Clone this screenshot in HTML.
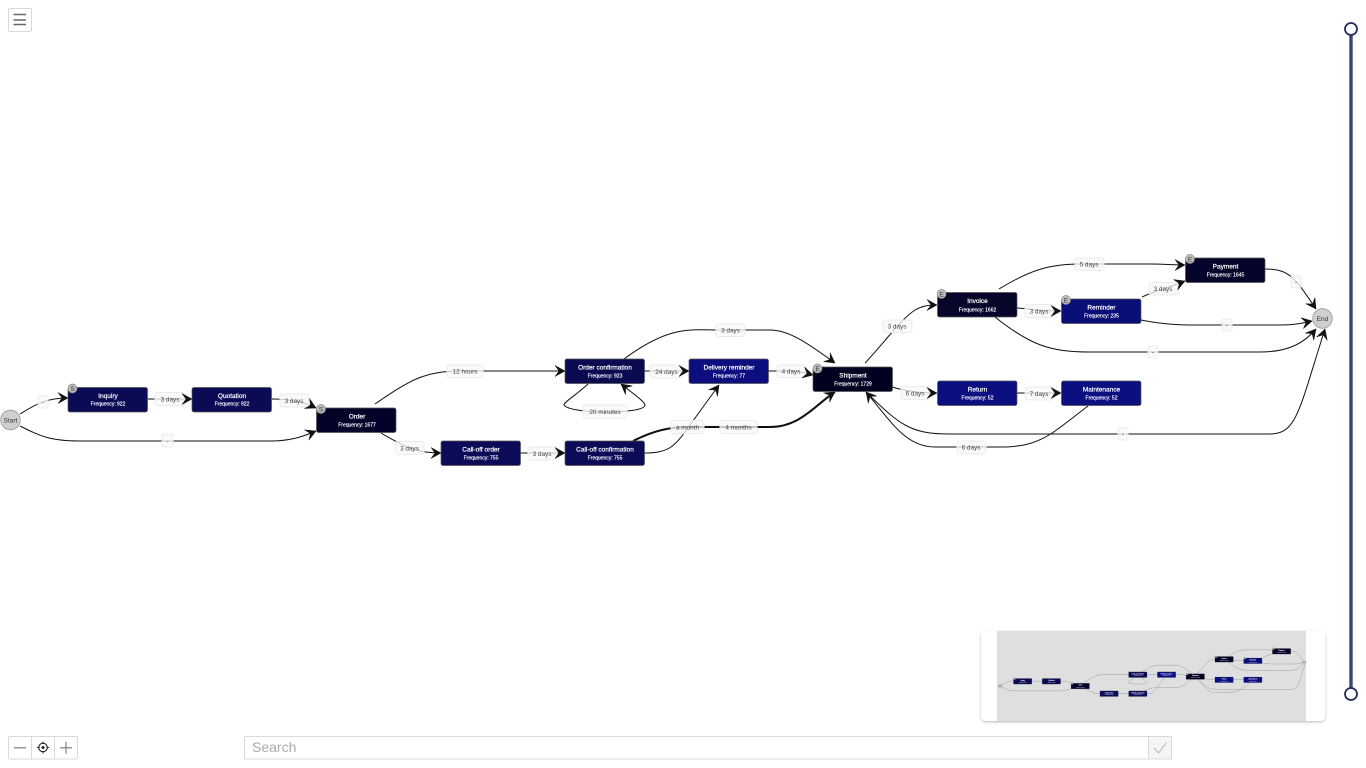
<!DOCTYPE html>
<html lang="en">
<head>
<meta charset="utf-8">
<title>Process diagram</title>
<style>
html,body{margin:0;padding:0;background:#fff;width:1366px;height:768px;overflow:hidden}
svg{position:absolute;left:0;top:0;font-family:"Liberation Sans",Arial,sans-serif}
.t{font-size:6.500px;fill:#fff;stroke:#fff;stroke-width:.2;text-anchor:middle}
.f{font-size:5px;fill:#fff;stroke:#fff;stroke-width:.15;text-anchor:middle}
.l{font-size:6.400px;fill:#444;text-anchor:middle}
.b{font-size:6.500px;fill:#333;text-anchor:middle}
.lb{fill:#f8f8f8;fill-opacity:.78;stroke:#ebebeb;stroke-width:1}
.n{stroke:#555;stroke-width:.7}
.ctl{fill:#fff;stroke:#d9d9d9;stroke-width:1}
</style>
</head>
<body>
<svg width="1366" height="768" viewBox="0 0 1366 768" xmlns="http://www.w3.org/2000/svg">
<defs>
<marker id="a" markerUnits="userSpaceOnUse" markerWidth="16" markerHeight="16" refX="12.500" refY="8" orient="auto" overflow="visible">
<path d="M2.500,2.500 L12.500,8 L2.500,13.500 L6.500,8 Z" fill="#111" stroke="#111" stroke-width=".5" stroke-linejoin="round"/>
</marker>
<filter id="sh" x="-5%" y="-10%" width="110%" height="125%"><feDropShadow dx="0" dy="1" stdDeviation="1.400" flood-color="#000" flood-opacity=".28"/></filter>
<g id="edges" fill="none">
<path d="M20,414 C35,405 45,398 68,398"/>
<path d="M20,426 C40,436 50,441 80,441 L270,441 C290,441 302,437 316,431"/>
<path d="M148,399 L192,399"/>
<path d="M272,399 C290,399 304,402 316,408"/>
<path d="M375,404 C410,380 425,371 460,371 L565,371"/>
<path d="M381,433 C410,450 420,453 441,453"/>
<path d="M520,453 L565,453"/>
<path d="M644,453 C670,453 675,446 690,425 L719,385"/>
<path stroke-width="2" d="M633,441 C655,430 670,427 690,427 L770,427 C800,427 815,405 835,392"/>
<path d="M644,371 L689,371"/>
<path d="M768,371 L790,371 C800,371 805,373 813,375"/>
<path d="M624,359 C670,325 690,330 720,330 L770,330 C790,330 810,345 835,363"/>
<path d="M588,384 C575,396 564,402 564,405 C567,410 590,412 605,412 C625,412 645,410 645,405 C645,402 635,395 621,384"/>
<path d="M865,363 C885,342 900,320 915,310 C922,306 928,305 937,305"/>
<path d="M999,289 C1030,270 1050,264 1080,264 L1150,264 C1165,264 1175,265 1185,265"/>
<path d="M1017,308 C1030,309 1045,311 1061,311"/>
<path d="M1142,297 C1155,291 1170,287 1185,281"/>
<path d="M1141,320 C1170,326 1190,325 1220,325 L1280,325 C1295,325 1303,323 1312,321"/>
<path d="M995,317 C1030,345 1050,352 1090,352 L1260,352 C1290,352 1305,342 1316,329"/>
<path d="M1265,269 C1290,269 1295,278 1316,309"/>
<path d="M892,387 C905,391 920,393 937,393"/>
<path d="M1017,393 L1061,393"/>
<path d="M866,392 C900,425 910,434 950,434 L1270,434 C1297,434 1299,410 1325,329"/>
<path d="M1088,406 C1050,435 1040,447 1000,447 L935,447 C905,447 890,420 866,392"/>
</g>
<g id="labels">
<rect class="lb" x="38" y="396" width="10" height="12" rx="2"/><text class="l" x="43" y="404">-</text>
<rect class="lb" x="162" y="434" width="11" height="13" rx="2"/><text class="l" x="167.500" y="443">-</text>
<rect class="lb" x="155" y="392.500" width="30" height="13" rx="2.500"/><text class="l" x="170" y="401.500">3 days</text>
<rect class="lb" x="280" y="394" width="29" height="13" rx="2.500"/><text class="l" x="294" y="403">3 days</text>
<rect class="lb" x="395" y="441.500" width="29" height="13" rx="2.500"/><text class="l" x="409.500" y="450.500">3 days</text>
<rect class="lb" x="447" y="365" width="36" height="12.500" rx="2.500"/><text class="l" x="465" y="373.500">12 hours</text>
<rect class="lb" x="528" y="447" width="29" height="13" rx="2.500"/><text class="l" x="542" y="456">3 days</text>
<rect class="lb" x="650" y="365" width="33" height="13" rx="2.500"/><text class="l" x="666.500" y="374">24 days</text>
<rect class="lb" x="716" y="324" width="29" height="12.500" rx="2.500"/><text class="l" x="730.500" y="332.500">3 days</text>
<rect class="lb" x="583" y="405" width="44" height="13" rx="2.500"/><text class="l" x="605" y="414">20 minutes</text>
<rect class="lb" x="671" y="420.500" width="33" height="13" rx="2.500"/><text class="l" x="687.500" y="429.500">a month</text>
<rect class="lb" x="720" y="420.500" width="37" height="13" rx="2.500"/><text class="l" x="738.500" y="429.500">4 months</text>
<rect class="lb" x="777" y="365" width="29" height="12.500" rx="2.500"/><text class="l" x="791" y="373.500">4 days</text>
<rect class="lb" x="883" y="320" width="29" height="12.500" rx="2.500"/><text class="l" x="897" y="328.500">3 days</text>
<rect class="lb" x="901" y="386.500" width="29" height="13" rx="2.500"/><text class="l" x="915" y="395.500">6 days</text>
<rect class="lb" x="1075" y="258" width="29" height="12.500" rx="2.500"/><text class="l" x="1089" y="266.500">5 days</text>
<rect class="lb" x="1025" y="304.500" width="29" height="13" rx="2.500"/><text class="l" x="1039" y="313.500">3 days</text>
<rect class="lb" x="1149" y="282.500" width="29" height="12.500" rx="2.500"/><text class="l" x="1163" y="291">3 days</text>
<rect class="lb" x="1025" y="387" width="29" height="13" rx="2.500"/><text class="l" x="1039" y="396">7 days</text>
<rect class="lb" x="957" y="441" width="29" height="13" rx="2.500"/><text class="l" x="971" y="449.500">6 days</text>
<rect class="lb" x="1291" y="276" width="10" height="12" rx="2"/><text class="l" x="1296" y="284">-</text>
<rect class="lb" x="1222" y="319" width="10" height="12" rx="2"/><text class="l" x="1227" y="327.500">-</text>
<rect class="lb" x="1148" y="346" width="10" height="12" rx="2"/><text class="l" x="1153" y="354.500">-</text>
<rect class="lb" x="1118" y="428" width="10" height="12" rx="2"/><text class="l" x="1123" y="436.500">-</text>
</g>
<g id="nodes">
<circle cx="10.500" cy="420" r="9.800" fill="#cfcfcf" stroke="#999" stroke-width=".8"/><text class="b" x="10.500" y="422.500">Start</text>
<circle cx="1322.500" cy="318.500" r="9.800" fill="#cfcfcf" stroke="#999" stroke-width=".8"/><text class="b" x="1322.500" y="321">End</text>

<rect class="n" x="68" y="387.500" width="79.500" height="24.500" rx="2" fill="#0b0b55"/><text class="t" x="108" y="398">Inquiry</text><text class="f" x="108" y="405.500">Frequency: 922</text>
<rect class="n" x="192" y="387.500" width="79.500" height="24.500" rx="2" fill="#0b0b55"/><text class="t" x="232" y="398">Quotation</text><text class="f" x="232" y="405.500">Frequency: 922</text>
<rect class="n" x="316.500" y="408" width="79.500" height="24.500" rx="2" fill="#03032a"/><text class="t" x="357" y="418.500">Order</text><text class="f" x="357" y="426.500">Frequency: 1677</text>
<rect class="n" x="441" y="441" width="79.500" height="24.500" rx="2" fill="#0b0b58"/><text class="t" x="481" y="451.500">Call-off order</text><text class="f" x="481" y="459.500">Frequency: 755</text>
<rect class="n" x="565" y="441" width="79.500" height="24.500" rx="2" fill="#0b0b58"/><text class="t" x="605" y="451.500">Call-off confirmation</text><text class="f" x="605" y="459.500">Frequency: 755</text>
<rect class="n" x="565" y="359" width="79.500" height="24.500" rx="2" fill="#0a0a50"/><text class="t" x="605" y="369.500">Order confirmation</text><text class="f" x="605" y="377.500">Frequency: 923</text>
<rect class="n" x="689" y="359" width="79.500" height="24.500" rx="2" fill="#0c0e80"/><text class="t" x="729" y="369.500">Delivery reminder</text><text class="f" x="729" y="377.500">Frequency: 77</text>
<rect class="n" x="813" y="367" width="79.500" height="24.500" rx="2" fill="#020220"/><text class="t" x="853" y="377.500">Shipment</text><text class="f" x="853" y="385.500">Frequency: 1729</text>
<rect class="n" x="937.500" y="292.500" width="79.500" height="24.500" rx="2" fill="#06062b"/><text class="t" x="977.500" y="303">Invoice</text><text class="f" x="977.500" y="311.500">Frequency: 1662</text>
<rect class="n" x="1061.500" y="299" width="79.500" height="24.500" rx="2" fill="#0a0f78"/><text class="t" x="1101.500" y="309.500">Reminder</text><text class="f" x="1101.500" y="317.500">Frequency: 235</text>
<rect class="n" x="1185.500" y="258" width="79.500" height="24.500" rx="2" fill="#05052b"/><text class="t" x="1225.500" y="268.500">Payment</text><text class="f" x="1225.500" y="276.500">Frequency: 1645</text>
<rect class="n" x="937.500" y="381" width="79.500" height="24.500" rx="2" fill="#0b0f80"/><text class="t" x="977.500" y="391.500">Return</text><text class="f" x="977.500" y="399.500">Frequency: 52</text>
<rect class="n" x="1061.500" y="381" width="79.500" height="24.500" rx="2" fill="#0b0f80"/><text class="t" x="1101.500" y="391.500">Maintenance</text><text class="f" x="1101.500" y="399.500">Frequency: 52</text>

<g fill="#bdbdbd" stroke="#8a8a8a" stroke-width=".7">
<circle cx="72.500" cy="388.500" r="4.500"/><circle cx="321" cy="409" r="4.500"/><circle cx="817.500" cy="368.500" r="4.500"/>
<circle cx="941.500" cy="294" r="4.500"/><circle cx="1066" cy="300" r="4.500"/><circle cx="1190" cy="259" r="4.500"/>
</g>
<text class="b" x="72.500" y="390.800">S</text><text class="b" x="321" y="411.300">S</text><text class="b" x="817.500" y="370.800">E</text>
<text class="b" x="941.500" y="296.300">E</text><text class="b" x="1066" y="302.300">E</text><text class="b" x="1190" y="261.300">E</text>
</g>
</defs>

<!-- main graph -->
<g stroke="#111" stroke-width="1"><use href="#edges"/></g>
<use href="#labels"/>
<g stroke="none" marker-end="url(#a)"><use href="#edges"/></g>
<use href="#nodes"/>

<!-- menu -->
<rect class="ctl" x="8.500" y="8.500" width="23" height="23" rx="1.500"/>
<path d="M13.500,14.500H26M13.500,20H26M13.500,24.500H26" stroke="#666" stroke-width="1.500" fill="none"/>

<!-- slider -->
<rect x="1349.300" y="29" width="3.400" height="665" fill="#3d4473"/>
<circle cx="1351" cy="29" r="6" fill="#fff" stroke="#262d58" stroke-width="1.800"/>
<circle cx="1351" cy="694" r="6" fill="#fff" stroke="#262d58" stroke-width="1.800"/>

<!-- minimap -->
<rect x="981" y="631" width="344.500" height="90" rx="5" fill="#fff" filter="url(#sh)"/>
<rect x="997" y="631" width="309" height="90" fill="#dfdfdf"/>
<g transform="translate(997.700,588.700) scale(.2317)">
<g stroke="#9a9a9a" stroke-width="2"><use href="#edges"/></g>
<use href="#nodes"/>
</g>

<!-- zoom controls -->
<rect class="ctl" x="8.500" y="736.500" width="69" height="22.500" rx="1.500"/>
<path d="M31.500,736.500V759M54.500,736.500V759" stroke="#d9d9d9"/>
<path d="M14,747.800H26M60,747.800H72M66,741.800V753.800" stroke="#777" stroke-width="1.100" fill="none"/>
<circle cx="43" cy="747.500" r="4.300" fill="none" stroke="#222" stroke-width="1.100"/>
<circle cx="43" cy="747.500" r="1.500" fill="#222"/>
<path d="M43,741.500V744M43,751V753.500M37,747.500H39.500M46.500,747.500H49" stroke="#222" stroke-width="1"/>

<!-- search -->
<rect class="ctl" x="244.500" y="736.500" width="927" height="22.500" rx="1"/>
<rect x="1148.500" y="736.500" width="23" height="22.500" fill="#f5f5f5" stroke="#d9d9d9"/>
<path d="M1154,748 L1158.500,753 L1166.500,742.500" fill="none" stroke="#b5b5b5" stroke-width="1"/>
<text x="252" y="752" font-size="14" fill="#aaa">Search</text>
</svg>
</body>
</html>
